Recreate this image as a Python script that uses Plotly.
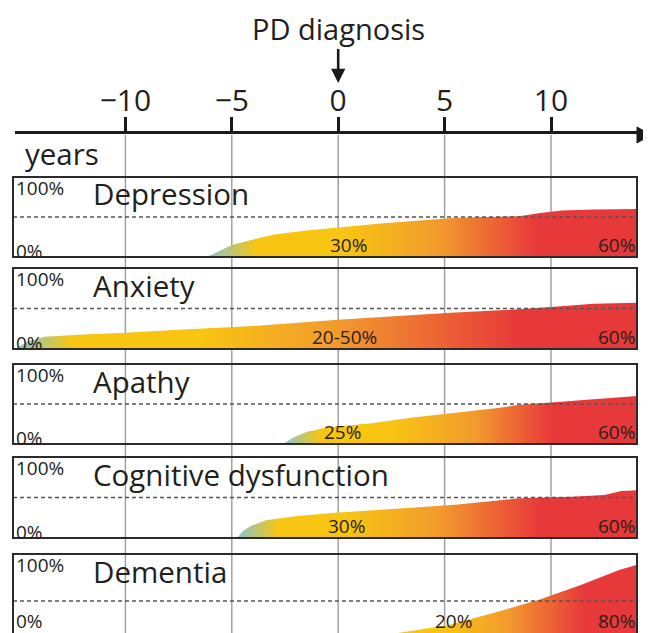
import plotly.graph_objects as go

# The page body keeps the browser's default 8px margin, so the figure is
# drawn 8px smaller and every position below is given in window pixels.
VIEW_W, VIEW_H = 651, 633
OFF = 8
W, H = VIEW_W - OFF, VIEW_H - OFF

# ---------------- data ----------------
panel_names = ["Depression", "Anxiety", "Apathy", "Cognitive dysfunction", "Dementia"]
mid_labels = ["30%", "20-50%", "25%", "30%", "20%"]
end_labels = ["60%", "60%", "60%", "60%", "80%"]
year_ticks = [-10, -5, 0, 5, 10]
year_tick_text = ["\u221210", "\u22125", "0", "5", "10"]

depression_x = [-6.2, -5.7, -5.0, -4.0, -3.0, -1.5, 0.0, 2.0, 4.0, 5.5, 8.5, 9.5, 10.5, 12.0, 14.1]
depression_y = [0, 6, 15, 22, 28, 33, 37, 42, 46, 49, 51, 55, 58, 59.5, 60]

anxiety_x = [-15.1, -14.5, -13.8, -12.0, -10.0, -7.3, -4.2, 0.0, 3.0, 5.5, 8.5, 10.0, 12.0, 14.1]
anxiety_y = [2, 10, 15, 18, 20, 24, 28, 36, 41, 45, 49, 52, 56, 57]

apathy_x = [-2.6, -2.1, -1.5, -0.5, 1.6, 3.5, 5.5, 7.5, 8.5, 10.0, 12.0, 14.1]
apathy_y = [0, 8, 15, 21, 26, 33, 39, 45, 49, 52, 56, 60]

cognitive_x = [-4.75, -4.5, -4.1, -3.4, -2.0, -0.3, 2.0, 5.5, 8.5, 11.0, 12.5, 13.3, 14.1]
cognitive_y = [0, 8, 15, 22, 27, 31, 35, 41, 49, 51, 53, 58, 59]

dementia_x = [-1.0, 1.0, 2.8, 5.2, 7.5, 9.4, 11.4, 13.2, 14.1]
dementia_y = [0, 8, 16, 24.5, 38.5, 51, 67, 83, 89]

series_x = [depression_x, anxiety_x, apathy_x, cognitive_x, dementia_x]
series_y = [depression_y, anxiety_y, apathy_y, cognitive_y, dementia_y]
mid_label_x = [0.5, 0.3, 0.2, 0.37, 5.4]

# ---------------- style / layout ----------------
TEAL, YEL, ORA, RED = "#86c6cf", "#f8c512", "#f29a2d", "#e8393a"
gradients = [
    [(-6.2, TEAL), (-3.8, YEL), (0.3, YEL), (4.8, ORA), (9.3, RED), (14.1, RED)],
    [(-15.1, TEAL), (-12.5, YEL), (-6.5, YEL), (0.0, ORA), (8.5, RED), (14.1, RED)],
    [(-2.6, TEAL), (-0.8, YEL), (2.5, YEL), (6.5, ORA), (10.0, RED), (14.1, RED)],
    [(-4.75, TEAL), (-2.8, YEL), (0.3, YEL), (4.8, ORA), (9.5, RED), (14.1, RED)],
    [(-1.0, TEAL), (2.5, YEL), (5.0, YEL), (8.0, ORA), (11.5, RED), (14.1, RED)],
]

FONT = "Open Sans"
TXT = "#231f20"
PX0, PXS = 338.2, 21.28           # window pixel of year 0, pixels per year
def px2x(px):
    return (px - PX0) / PXS
def P(px):
    return (px - OFF) / W
def Q(py):
    return 1 - (py - OFF) / H

LEFT, RIGHT = 13, 637
panel_px = [(177, 257), (268, 349), (364, 444), (457, 538), (554, 648)]
AXIS_Y = 135

fig = go.Figure()
annotations = []
shapes = []

# vertical grid lines (behind fills)
for t in year_ticks:
    shapes.append(dict(type="line", xref="x6", yref="paper", x0=t, x1=t,
                       y0=0, y1=Q(AXIS_Y), layer="below",
                       line=dict(color="#9c9c9c", width=1.4)))

for i in range(5):
    k = i + 1
    xa = "x" if k == 1 else f"x{k}"
    ya = "y" if k == 1 else f"y{k}"
    top, bot = panel_px[i]
    g = gradients[i]
    start, stop = g[0][0], g[-1][0]
    cs = [[(sx - start) / (stop - start), c] for sx, c in g]
    fig.add_trace(go.Scatter(
        x=series_x[i], y=series_y[i], xaxis=xa, yaxis=ya, mode="none",
        fill="tozeroy",
        fillgradient=dict(type="horizontal", colorscale=cs, start=start, stop=stop),
        hoverinfo="skip", showlegend=False))

    if bot <= VIEW_H:
        ydom = [Q(bot), Q(top)]
        yr = [0, 100]
    else:
        ydom = [0, Q(top)]
        yr = [(bot - VIEW_H) / ((bot - top) / 100), 100]
    fig.layout[f"xaxis{k}"] = dict(domain=[P(LEFT), P(RIGHT)],
                                   range=[px2x(LEFT), px2x(RIGHT)],
                                   visible=False, anchor=ya)
    fig.layout[f"yaxis{k}"] = dict(domain=ydom, range=yr, visible=False, anchor=xa)

    # dashed 50% line
    shapes.append(dict(type="line", xref="paper", yref=ya, x0=P(LEFT), x1=P(RIGHT),
                       y0=50, y1=50, layer="above",
                       line=dict(color="#555555", width=1.3, dash="4px,3px")))
    # border
    if bot <= VIEW_H:
        shapes.append(dict(type="rect", xref="paper", yref="paper",
                           x0=P(LEFT), x1=P(RIGHT), y0=Q(bot), y1=Q(top),
                           line=dict(color="#2b2b2b", width=2), layer="above"))
    else:
        path = (f"M {P(LEFT)} {Q(bot)} L {P(LEFT)} {Q(top)} "
                f"L {P(RIGHT)} {Q(top)} L {P(RIGHT)} {Q(bot)}")
        shapes.append(dict(type="path", xref="paper", yref="paper", path=path,
                           line=dict(color="#2b2b2b", width=2), layer="above"))

    lab_y = bot - 12 if bot <= VIEW_H else 621
    zero_y = bot - 6 if bot <= VIEW_H else 621
    annotations += [
        dict(text="100%", x=P(LEFT + 1), y=Q(top + 11), xref="paper", yref="paper",
             xanchor="left", yanchor="middle", showarrow=False,
             font=dict(size=19, color=TXT, family=FONT)),
        dict(text="0%", x=P(LEFT + 1), y=Q(zero_y), xref="paper", yref="paper",
             xanchor="left", yanchor="middle", showarrow=False,
             font=dict(size=19, color=TXT, family=FONT)),
        dict(text=panel_names[i], x=P(91), y=Q(top + 17), xref="paper", yref="paper",
             xanchor="left", yanchor="middle", showarrow=False,
             font=dict(size=29.5, color=TXT, family=FONT)),
        dict(text=mid_labels[i], x=mid_label_x[i], y=Q(lab_y), xref=xa, yref="paper",
             xanchor="center", yanchor="middle", showarrow=False,
             font=dict(size=19, color="#2a1e1a", family=FONT)),
        dict(text=end_labels[i], x=P(RIGHT), y=Q(lab_y), xref="paper", yref="paper",
             xanchor="right", yanchor="middle", showarrow=False,
             font=dict(size=19, color="#2a1e1a", family=FONT)),
    ]

# top time axis
fig.add_trace(go.Scatter(x=[0], y=[0], xaxis="x6", yaxis="y6", mode="markers",
                         marker=dict(opacity=0), hoverinfo="skip", showlegend=False))
AX_L, AX_R = 15, 641
fig.layout["xaxis6"] = dict(domain=[P(AX_L), P(AX_R)], range=[px2x(AX_L), px2x(AX_R)],
                            anchor="y6", side="top", showline=True,
                            linecolor="#1a1a1a", linewidth=3, ticks="outside",
                            ticklen=14, tickwidth=3, tickcolor="#1a1a1a",
                            tickmode="array", tickvals=year_ticks, ticktext=year_tick_text,
                            tickfont=dict(size=30, color=TXT, family=FONT),
                            ticklabelstandoff=-6,
                            showgrid=False, zeroline=False)
fig.layout["yaxis6"] = dict(domain=[Q(AXIS_Y + 1), Q(AXIS_Y - 1)], range=[0, 1],
                            visible=False, anchor="x6")
# arrow head of the time axis
shapes.append(dict(type="path", xref="paper", yref="paper",
                   path=f"M {P(637)} {Q(127)} L {P(651)} {Q(AXIS_Y)} L {P(637)} {Q(143)} Z",
                   fillcolor="#1a1a1a", line=dict(color="#1a1a1a", width=1)))

annotations += [
    dict(text="PD diagnosis", x=0, y=Q(83), xref="x6", yref="paper",
         ax=0, ay=-55, showarrow=True, arrowhead=2, arrowsize=1.1, arrowwidth=2.6,
         arrowcolor="#1a1a1a", font=dict(size=29, color=TXT, family=FONT)),
    dict(text="years", x=P(23), y=Q(153), xref="paper", yref="paper",
         xanchor="left", yanchor="middle", showarrow=False,
         font=dict(size=29.5, color=TXT, family=FONT)),
]

fig.update_layout(width=W, height=H, margin=dict(l=0, r=0, t=0, b=0),
                  paper_bgcolor="white", plot_bgcolor="rgba(0,0,0,0)",
                  annotations=annotations, shapes=shapes, showlegend=False,
                  font=dict(family=FONT))

fig.write_html("out.html")
